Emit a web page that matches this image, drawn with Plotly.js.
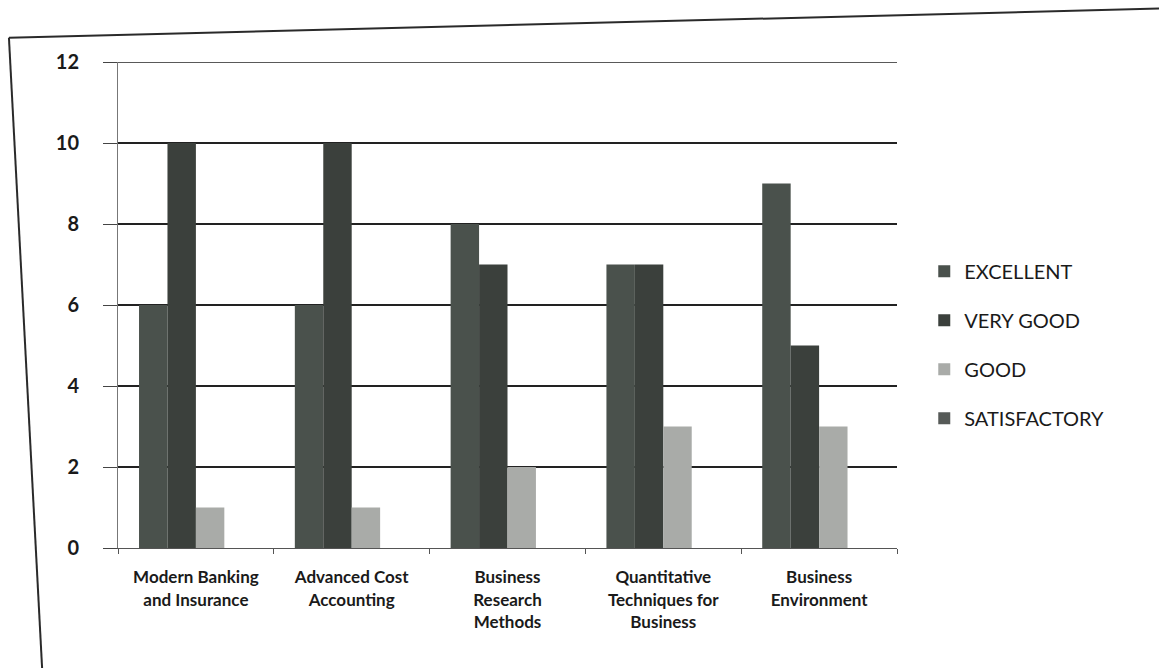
<!DOCTYPE html>
<html>
<head>
<meta charset="utf-8">
<script src="https://cdn.plot.ly/plotly-3.0.1.min.js"></script>
<style>
  html, body { margin: 0; padding: 0; background: #ffffff; }
  #chart { width: 1159px; height: 668px; }
</style>
</head>
<body>
<div id="chart"></div>
<script>
const categories = [
  "Modern Banking<br>and Insurance",
  "Advanced Cost<br>Accounting",
  "Business<br>Research<br>Methods",
  "Quantitative<br>Techniques for<br>Business",
  "Business<br>Environment"
];
const excellent    = [6, 6, 8, 7, 9];
const veryGood     = [10, 10, 7, 7, 5];
const good         = [1, 1, 2, 3, 3];
const satisfactory = [0, 0, 0, 0, 0];
const seriesNames  = ["EXCELLENT", "VERY GOOD", "GOOD", "SATISFACTORY"];
const seriesColors = ["#4a514c", "#3b403c", "#a9aba8", "#565a58"];
const yTicks = [0, 2, 4, 6, 8, 10, 12];
const yMax = 12;

const seriesValues = [excellent, veryGood, good, satisfactory];
const traces = seriesValues.map((vals, i) => ({
  type: "bar",
  x: categories,
  y: vals,
  name: seriesNames[i],
  legendgroup: "g" + i,
  marker: { color: seriesColors[i], line: { width: 0 } },
  hoverinfo: "x+y+name"
}));

const layout = {
  width: 1159,
  height: 668,
  margin: { l: 118, r: 262, t: 62, b: 120 },
  paper_bgcolor: "#ffffff",
  plot_bgcolor: "#ffffff",
  font: { family: "Lato, 'Open Sans', sans-serif", color: "#1a1a1a" },
  barmode: "group",
  bargap: 0.27,
  bargroupgap: 0,
  showlegend: true,
  legend: {
    x: 1.035, y: 0.418, xanchor: "left", yanchor: "middle",
    font: { size: 20, color: "#1a1a1a" },
    tracegroupgap: 20,
    bgcolor: "rgba(0,0,0,0)"
  },
  xaxis: {
    type: "category",
    showgrid: false,
    showline: true,
    linecolor: "#555555",
    linewidth: 1,
    ticks: "outside",
    tickson: "boundaries",
    ticklen: 5,
    tickcolor: "#555555",
    ticklabelstandoff: 14,
    tickfont: { size: 17, color: "#1a1a1a", family: "Lato, 'Open Sans', sans-serif", weight: "bold" },
    fixedrange: true
  },
  yaxis: {
    range: [0, yMax],
    tickvals: yTicks,
    ticktext: yTicks.map(String),
    showgrid: true,
    gridcolor: "#222222",
    gridwidth: 1.5,
    zeroline: false,
    showline: true,
    linecolor: "#777777",
    linewidth: 1,
    ticks: "outside",
    ticklen: 14,
    tickcolor: "#444444",
    ticklabelstandoff: 20,
    tickfont: { size: 20, color: "#1a1a1a", family: "Lato, 'Open Sans', sans-serif", weight: "bold" },
    fixedrange: true
  },
  shapes: [
    { type: "line", xref: "paper", yref: "y", x0: 0, y0: yMax, x1: 1, y1: yMax,
      line: { color: "#222222", width: 1.5 } },
    { type: "line", xref: "paper", yref: "paper", x0: -0.14, y0: 1.05, x1: 1.34, y1: 1.11,
      line: { color: "#2a2a2a", width: 2 } },
    { type: "line", xref: "paper", yref: "paper", x0: -0.14, y0: 1.05, x1: -0.097, y1: -0.26,
      line: { color: "#2a2a2a", width: 2 } }
  ]
};

Plotly.newPlot("chart", traces, layout, { displayModeBar: false, staticPlot: true });
</script>
</body>
</html>
